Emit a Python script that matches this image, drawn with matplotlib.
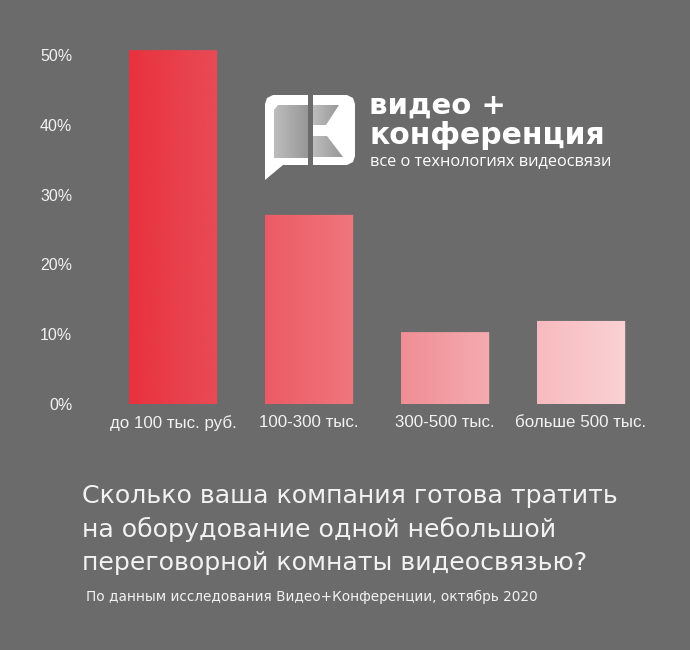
import numpy as np
import matplotlib
matplotlib.use("Agg")
import matplotlib.pyplot as plt
from matplotlib.patches import Polygon, FancyBboxPatch
from matplotlib.colors import LinearSegmentedColormap

# data
categories = ["до 100 тыс. руб.", "100-300 тыс.", "300-500 тыс.", "больше 500 тыс."]
values = [50.7, 27.1, 10.3, 11.9]
yticks = [0, 10, 20, 30, 40, 50]
ytick_labels = ["0%", "10%", "20%", "30%", "40%", "50%"]
bar_colors = [("#e8323e", "#e84b56"), ("#ec5b65", "#ef767d"),
              ("#f08e95", "#f4abb0"), ("#f7bbbf", "#fad1d4")]

title_lines = ["Сколько ваша компания готова тратить",
               "на оборудование одной небольшой",
               "переговорной комнаты видеосвязью?"]
source = "По данным исследования Видео+Конференции, октябрь 2020"

BG = "#6b6b6b"
TXT = "#f2f2f2"
W, H = 690, 650

fig = plt.figure(figsize=(W / 100, H / 100), dpi=100, facecolor=BG)

# axes placed in pixel terms
ax_l, ax_r, ax_t, ax_b = 100, 660, 30, 404
ax = fig.add_axes([ax_l / W, 1 - ax_b / H, (ax_r - ax_l) / W, (ax_b - ax_t) / H])
ax.set_facecolor(BG)

x0, step = 173, 136
px_per_pct = 69.8 / 10

x = np.arange(len(categories))
bars = ax.bar(x, values, width=0.65, color="none", edgecolor="none")

# gradient fill for each bar
grad = np.linspace(0, 1, 64).reshape(1, -1)
for b, (c1, c2) in zip(bars, bar_colors):
    cmap = LinearSegmentedColormap.from_list("g", [c1, c2])
    bx, by = b.get_x(), b.get_y()
    bw, bh = b.get_width(), b.get_height()
    im = ax.imshow(grad, cmap=cmap, aspect="auto",
                   extent=(bx, bx + bw, by, by + bh), zorder=2)
    patch = FancyBboxPatch((bx, by), bw, bh, boxstyle="round,pad=0,rounding_size=0.01",
                           transform=ax.transData, facecolor="none", edgecolor="none")
    ax.add_patch(patch)
    im.set_clip_path(patch)

ax.set_xlim((ax_l - x0) / step, (ax_r - x0) / step)
ax.set_ylim(0, (ax_b - ax_t) / px_per_pct)

ax.set_xticks(x)
ax.set_xticklabels(categories, family="Liberation Sans", fontsize=12.2, color=TXT)
ax.set_yticks(yticks)
ax.set_yticklabels(ytick_labels, family="Liberation Sans", fontsize=11.5, color=TXT)
ax.tick_params(axis="both", length=0)
ax.tick_params(axis="y", pad=20)
ax.tick_params(axis="x", pad=8)
for s in ax.spines.values():
    s.set_visible(False)


def fx(px):
    return px / W


def fy(py):
    return 1 - py / H


# logo
white = "#ffffff"
left_outer = [(265, 180), (265, 104), (267, 98), (273, 95), (308, 95), (308, 165), (283, 165)]
fig.patches.append(Polygon([(fx(a), fy(b)) for a, b in left_outer], closed=True,
                           transform=fig.transFigure, facecolor=white, edgecolor="none"))
right_outer = [(313, 95), (347, 95), (353, 98), (355, 104), (355, 156), (353, 162), (347, 165), (313, 165)]
fig.patches.append(Polygon([(fx(a), fy(b)) for a, b in right_outer], closed=True,
                           transform=fig.transFigure, facecolor=white, edgecolor="none"))

lgrad = LinearSegmentedColormap.from_list("lg", ["#bdbdbd", "#979797"])
logo_parts = [
    [(274, 158), (274, 110), (278, 105), (308, 105), (308, 158)],
    [(313, 105), (339, 105), (326, 125), (313, 125)],
    [(313, 136), (327, 136), (343, 157), (313, 157)],
]
for pts in logo_parts:
    xs = [p[0] for p in pts]
    ys = [p[1] for p in pts]
    iax = fig.add_axes([fx(min(xs)), fy(max(ys)), (max(xs) - min(xs)) / W, (max(ys) - min(ys)) / H],
                       zorder=5)
    iax.set_axis_off()
    img = iax.imshow(grad, cmap=lgrad, aspect="auto",
                     extent=(min(xs), max(xs), max(ys), min(ys)))
    iax.set_xlim(min(xs), max(xs))
    iax.set_ylim(max(ys), min(ys))
    poly = Polygon(pts, closed=True, transform=iax.transData, facecolor="none", edgecolor="none")
    iax.add_patch(poly)
    img.set_clip_path(poly)

fig.text(fx(369), fy(106), "видео +", family="DejaVu Sans", fontweight="bold",
         fontsize=21, color=white, va="center", ha="left")
fig.text(fx(369), fy(135), "конференция", family="DejaVu Sans", fontweight="bold",
         fontsize=21.5, color=white, va="center", ha="left")
fig.text(fx(370), fy(161), "все о технологиях видеосвязи", family="Open Sans",
         fontsize=11.8, color=white, va="center", ha="left")

# question and source
for i, line in enumerate(title_lines):
    fig.text(fx(82), fy(496 + i * 33.5), line, family="DejaVu Sans", fontsize=18.2,
             color=TXT, va="center", ha="left")
fig.text(fx(86), fy(597), source, family="DejaVu Sans", fontsize=9.8,
         color=TXT, va="center", ha="left")

fig.savefig("out.png", dpi=100, facecolor=BG)
